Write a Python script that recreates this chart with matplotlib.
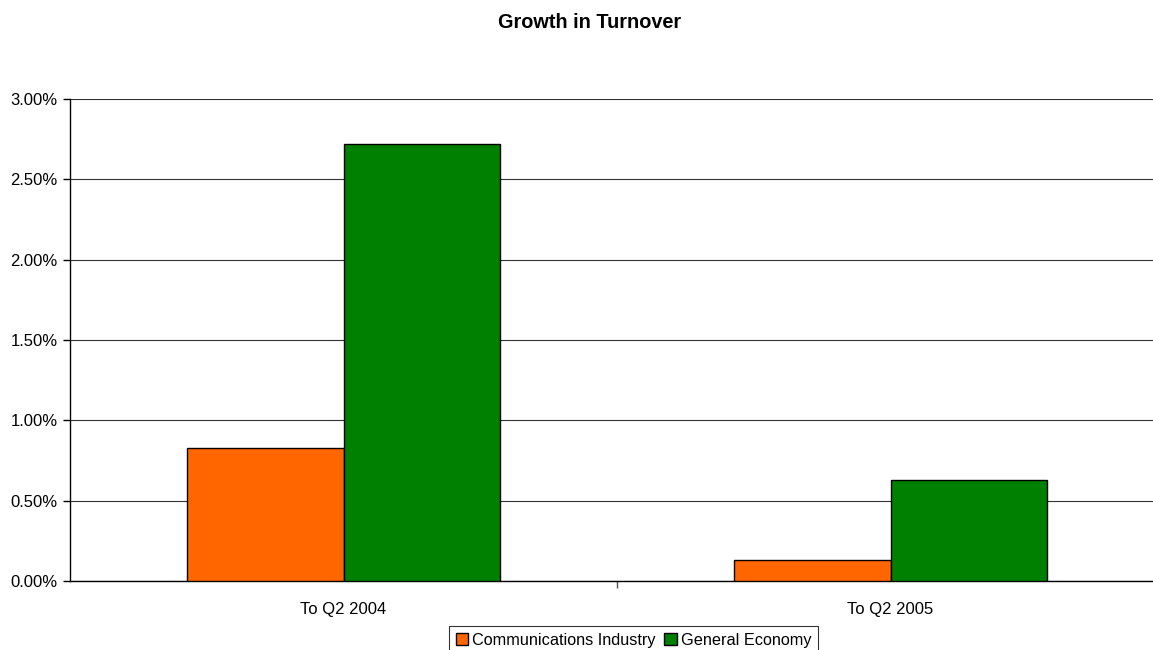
import matplotlib
matplotlib.use("Agg")
import matplotlib.pyplot as plt
import numpy as np
from matplotlib.ticker import FuncFormatter, MultipleLocator

plt.rcParams['font.family'] = ['Liberation Sans', 'DejaVu Sans']

categories = ["To Q2 2004", "To Q2 2005"]
series_names = ["Communications Industry", "General Economy"]
communications = [0.83, 0.13]
general_economy = [2.72, 0.63]
colors = ["#FF6600", "#008000"]

W, H = 1153, 650
fig = plt.figure(figsize=(W / 100, H / 100), dpi=100)
left, right, top, bottom = 70, 1164, 99, 581
ax = fig.add_axes([left / W, 1 - bottom / H, (right - left) / W, (bottom - top) / H])

x = np.arange(len(categories))
bw = 1 / 3.5
for i, (vals, name, c) in enumerate(zip([communications, general_economy], series_names, colors)):
    ax.bar(x + (i - 0.5) * bw, vals, width=bw, color=c, edgecolor="black",
           linewidth=1.0, label=name, zorder=3)

ax.set_xlim(-0.5, len(categories) - 0.5)
ax.set_ylim(0, 3.0)
ax.yaxis.set_major_locator(MultipleLocator(0.5))
ax.yaxis.set_major_formatter(FuncFormatter(lambda v, p: f"{v:.2f}%"))
ax.grid(axis="y", color="#333333", linewidth=0.8, zorder=0)
ax.set_axisbelow(True)

ax.set_xticks(x)
ax.set_xticklabels(categories)
ax.tick_params(axis="x", length=0, pad=15, labelsize=12)
ax.set_xticks([0.5], minor=True)
ax.tick_params(axis="x", which="minor", length=5, width=1, color="#555555", direction="out")
ax.tick_params(axis="y", length=5, width=1, direction="out", labelsize=12, pad=4)

for s in ["top", "right"]:
    ax.spines[s].set_visible(False)
ax.spines["left"].set_linewidth(1.0)
ax.spines["bottom"].set_linewidth(1.0)

fig.text(590 / W, 1 - 22 / H, "Growth in Turnover", ha="center", va="center",
         fontsize=14.3, fontweight="bold")

leg = fig.legend(loc="upper center", bbox_to_anchor=(633.5 / W, 1 - 626 / H), ncol=2,
                 fontsize=11.7, frameon=True, fancybox=False, edgecolor="black",
                 handlelength=0.75, handleheight=0.75, handletextpad=0.25,
                 columnspacing=0.55, borderpad=0.4, borderaxespad=0)
leg.get_frame().set_linewidth(0.8)

fig.savefig("out.png", dpi=100)
